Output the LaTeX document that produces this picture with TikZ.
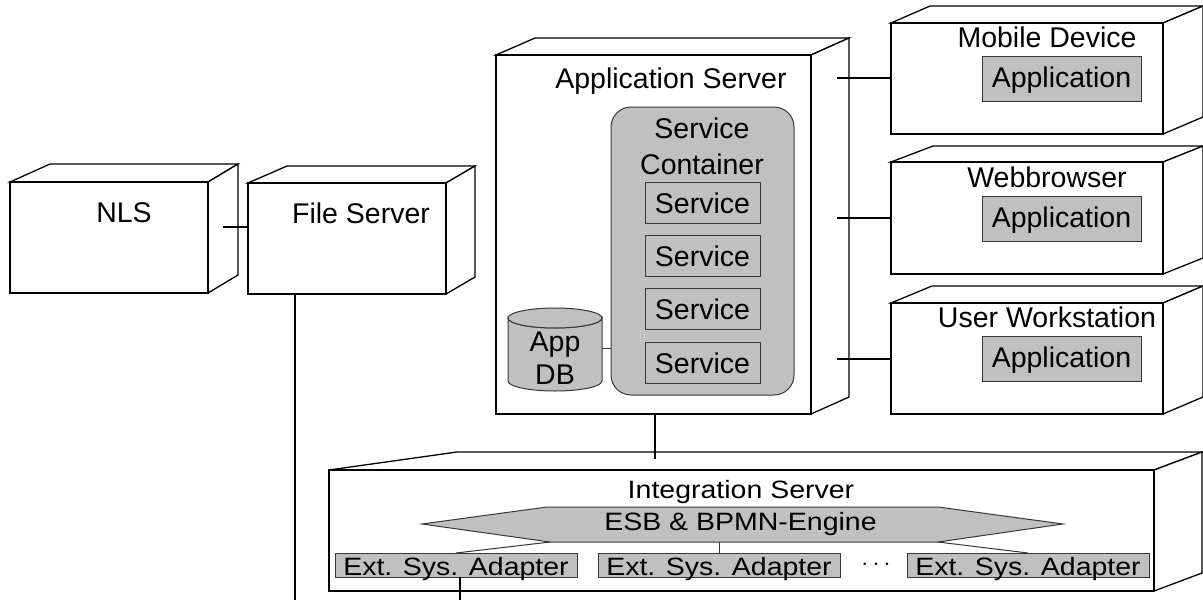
\documentclass[tikz,border=0pt]{standalone}
\usepackage{fontspec}
\setmainfont{Liberation Sans}
\usetikzlibrary{calc}
\definecolor{shade}{RGB}{192,192,192}
\definecolor{edge}{RGB}{55,55,55}

% 3D deployment node: front face (named node) plus top and right faces
% #1 name, #2/#3 front top-left, #4/#5 front bottom-right,
% #6 left depth offset, #7 right depth offset, #8 rise
\newcommand\deploynode[8]{%
  \path[face] (#2,#3) -- (#2+#6,#3-#8) -- (#4+#7,#3-#8) -- (#4,#3) -- cycle;
  \path[face] (#4,#3) -- (#4+#7,#3-#8) -- (#4+#7,#5-#8) -- (#4,#5) -- cycle;
  \node[front, minimum width={#4-#2}, minimum height={#5-#3}] (#1) at (#2,#3) {};
}
\newcommand\squashed[1]{\scalebox{1}[0.88]{#1}}

\begin{document}
\begin{tikzpicture}[x=1pt,y=-1pt,
  face/.style={draw=black, line width=1.3pt, fill=white, line join=miter},
  front/.style={draw=black, line width=1.3pt, fill=white, anchor=north west,
                inner sep=0pt, outer sep=0pt},
  part/.style={draw=edge, line width=1pt, fill=shade, anchor=north west,
               inner sep=0pt, outer sep=0pt},
  lbl/.style={font=\fontsize{28.5}{34}\selectfont, inner sep=0pt, anchor=base},
  link/.style={draw=black, line width=1.3pt},
  inlink/.style={draw=edge, line width=1pt}]
\useasboundingbox (0,0) rectangle (1203,600);

% ---- nodes ----
\deploynode{nls}{10}{182}{208}{293}{40}{30}{18}
\deploynode{fs}{248}{183}{446}{294}{39}{29}{17}
\deploynode{app}{496}{55}{811}{414}{39}{38}{17}
\deploynode{mob}{891}{23}{1163}{134}{39}{40}{17}
\deploynode{web}{891}{162}{1163}{274}{42}{40}{16}
\deploynode{usr}{891}{303}{1163}{414}{41}{40}{17}
\deploynode{int}{329}{470}{1154}{591}{128}{48}{18}

\node[lbl] (nls-t) at (124,222) {NLS};
\node[lbl] (fs-t) at (361,223) {File Server};
\node[lbl] (app-t) at (671,88) {Application Server};

% ---- application server content ----
\node[part, rounded corners=20pt, minimum width=183, minimum height=288] (sc) at (611,107) {};
\node[lbl] (sc-t1) at (702,138) {Service};
\node[lbl] (sc-t2) at (702,174) {Container};
\foreach \y [count=\i] in {182,235,288,342} {
  \node[part, minimum width=115, minimum height=41] (svc\i) at (645,\y) {};
  \node[lbl] (svc\i-t) at (702.5,\y+31) {Service};
}

% database cylinder
\path[part] (508,318) -- (508,381) arc[start angle=180, end angle=0, x radius=47, y radius=10]
  -- (602,318) arc[start angle=0, end angle=180, x radius=47, y radius=10] -- cycle;
\path[part] (555,318) ellipse[x radius=47, y radius=10];
\node[inner sep=0pt, minimum width=94, minimum height=83] (db) at (555,349.5) {};
\node[lbl] (db-t1) at (555,351) {App};
\node[lbl] (db-t2) at (555,384) {DB};
\coordinate (db-link) at (602,348);
\draw[inlink] (db-link) -- (db-link -| sc.west);

% ---- client nodes ----
\node[lbl] (mob-t) at (1047,47) {Mobile Device};
\node[part, minimum width=159, minimum height=45] (mob-app) at (982,56) {};
\node[lbl] (mob-app-t) at (1061.5,87) {Application};

\node[lbl] (web-t) at (1047,187) {Webbrowser};
\node[part, minimum width=159, minimum height=45] (web-app) at (982,196) {};
\node[lbl] (web-app-t) at (1061.5,227) {Application};

\node[lbl] (usr-t) at (1047,327) {User Workstation};
\node[part, minimum width=159, minimum height=45] (usr-app) at (982,336) {};
\node[lbl] (usr-app-t) at (1061.5,367) {Application};

% ---- integration server ----
\node[lbl] (int-t) at (741,498) {\squashed{Integration Server}};
\path[part] (422,524) -- (547,507) -- (938,507) -- (1063,524) -- (938,542) -- (550,542) -- cycle;
\node[lbl] (esb) at (740.5,530) {\squashed{ESB \& BPMN-Engine}};
\coordinate (esb-bl) at (550,542);
\coordinate (esb-mid) at (719,542);
\coordinate (esb-br) at (938,542);

\node[part, minimum width=242, minimum height=24] (a1) at (335,553) {};
\node[part, minimum width=242, minimum height=24] (a2) at (598,553) {};
\node[part, minimum width=242, minimum height=24] (a3) at (907,553) {};
\node[lbl] (a1-t) at (456,575) {\squashed{Ext. Sys. Adapter}};
\node[lbl] (a2-t) at (719,575) {\squashed{Ext. Sys. Adapter}};
\node[lbl] (a3-t) at (1028,575) {\squashed{Ext. Sys. Adapter}};
\node[inner sep=0pt, anchor=center, font=\fontsize{26}{28}\selectfont] (dots) at (876,565) {$\cdots$};

\draw[inlink] (esb-bl) -- (a1.north);
\draw[inlink] (esb-mid) -- (a2.north);
\draw[inlink] (esb-br) -- (a3.north);

% ---- connectors ----
\coordinate (nls-c) at (223,227);
\draw[link] (nls-c) -- (nls-c -| fs.west);
\coordinate (fs-out) at (295,600);
\draw[link] (fs-out |- fs.south) -- (fs-out);

\coordinate (app-c1) at (837,78);
\coordinate (app-c2) at (837,218);
\coordinate (app-c3) at (837,359);
\draw[link] (app-c1) -- (app-c1 -| mob.west);
\draw[link] (app-c2) -- (app-c2 -| web.west);
\draw[link] (app-c3) -- (app-c3 -| usr.west);

\coordinate (int-c) at (655,459);
\draw[link] (int-c |- app.south) -- (int-c);

\coordinate (a1-out) at (460,600);
\draw[link] (a1-out |- a1.south) -- (a1-out);
\end{tikzpicture}
\end{document}
